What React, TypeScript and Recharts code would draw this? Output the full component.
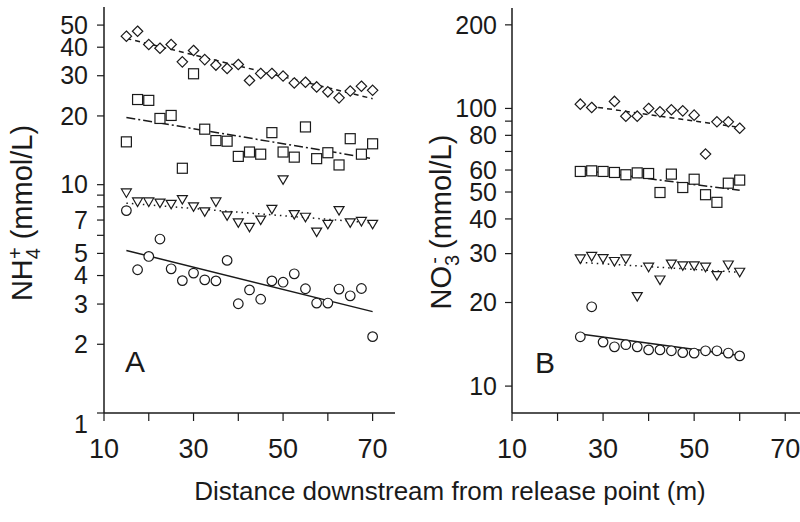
import React from "react";
import { ScatterChart, Scatter, XAxis, YAxis } from "recharts";

// ---------------------------------------------------------------------------
// Data (distance in m, concentration in mmol/L)
// ---------------------------------------------------------------------------

const distA = [15, 17.5, 20, 22.5, 25, 27.5, 30, 32.5, 35, 37.5, 40, 42.5, 45, 47.5, 50, 52.5, 55, 57.5, 60, 62.5, 65, 67.5, 70];
const diamondA = [44.7, 47.0, 41.1, 39.6, 41.1, 34.5, 38.7, 35.3, 33.4, 32.3, 33.6, 28.6, 30.7, 30.7, 29.9, 27.9, 28.1, 26.8, 25.5, 24.0, 25.7, 27.0, 25.9];
const squareA = [15.4, 23.6, 23.4, 19.5, 20.1, 11.8, 30.6, 17.5, 15.6, 15.5, 13.3, 13.9, 13.6, 16.9, 13.9, 13.2, 17.9, 13.0, 13.8, 12.2, 15.9, 13.6, 15.1];
const triangleA = [9.2, 8.4, 8.4, 8.3, 8.2, 8.6, 8.0, 7.6, 8.4, 7.3, 6.8, 6.5, 7.0, 7.8, 10.5, 7.4, 7.2, 6.2, 6.7, 7.7, 6.8, 6.9, 6.7];
const circleA = [7.7, 4.24, 4.85, 5.78, 4.28, 3.8, 4.1, 3.83, 3.79, 4.66, 3.01, 3.46, 3.15, 3.79, 3.74, 4.07, 3.5, 3.03, 3.03, 3.49, 3.26, 3.51, 2.16];

const fitDistA = [15, 70];
const diamondFitA = [43.7, 23.8];
const squareFitA = [19.7, 13.0];
const triangleFitA = [8.3, 6.8];
const circleFitA = [5.15, 2.78];

const distB = [25, 27.5, 30, 32.5, 35, 37.5, 40, 42.5, 45, 47.5, 50, 52.5, 55, 57.5, 60];
const diamondB = [103.6, 100.8, null, 106, 93.8, 93.8, 100, 97.2, 98.9, 98.0, 94.6, 68.5, 89.5, 89.5, 84.9];
const squareB = [59.3, 59.6, 59.3, 58.8, 57.7, 58.6, 58.3, 49.8, 58.0, 51.9, 55.6, 48.9, 45.9, 53.8, 55.2];
const triangleB = [28.7, 29.3, 28.8, 28.1, 28.7, 21.0, 26.8, 24.1, 27.5, 27.1, 27.1, 26.8, 25.0, 27.3, 25.7];
const circleB = [15.05, 19.3, 14.4, 13.85, 14.1, 13.85, 13.5, 13.5, 13.4, 13.2, 13.15, 13.4, 13.4, 13.15, 12.85];

const fitDistB = [25, 60];
const diamondFitB = [103, 85.4];
const squareFitB = [60.1, 50.7];
const triangleFitB = [27.9, 25.7];
const circleFitB = [15.4, 12.9];

const xTicks = [10, 20, 30, 40, 50, 60, 70];
const xLabels = [10, 30, 50, 70];
const yTicksA = [1, 2, 3, 4, 5, 6, 7, 8, 9, 10, 20, 30, 40, 50];
const yLabelsA = [1, 2, 3, 4, 5, 7, 10, 20, 30, 40, 50];
const yTicksB = [10, 20, 30, 40, 50, 60, 70, 80, 90, 100, 200];
const yLabelsB = [10, 20, 30, 40, 50, 60, 80, 100, 200];

// ---------------------------------------------------------------------------

const INK = "#1a1a1a";
const FONT = '"Liberation Sans", Arial, Helvetica, sans-serif';

type Pt = { x: number; y: number };

function toPoints(xs: number[], ys: (number | null)[]): Pt[] {
  return xs
    .map((x, i) => ({ x, y: ys[i] as number }))
    .filter((p) => p.y != null);
}

const Diamond = ({ cx, cy }: any) => (
  <path
    d={`M${cx},${cy - 5.2} L${cx + 5.2},${cy} L${cx},${cy + 5.2} L${cx - 5.2},${cy} Z`}
    fill="#fff"
    stroke={INK}
    strokeWidth={1.2}
  />
);

const Square = ({ cx, cy }: any) => (
  <rect x={cx - 5} y={cy - 5} width={10} height={10} fill="#fff" stroke={INK} strokeWidth={1.2} />
);

const Triangle = ({ cx, cy }: any) => (
  <path
    d={`M${cx - 5},${cy - 4} L${cx + 5},${cy - 4} L${cx},${cy + 4.5} Z`}
    fill="#fff"
    stroke={INK}
    strokeWidth={1.2}
  />
);

const Circle = ({ cx, cy }: any) => (
  <circle cx={cx} cy={cy} r={4.8} fill="#fff" stroke={INK} strokeWidth={1.2} />
);

const NoShape = () => <g />;

function YTick({ x, y, payload, labels, lowValue }: any) {
  if (!labels.includes(payload.value)) return <g />;
  const shift = payload.value === lowValue ? 11 : 0;
  return (
    <text x={x} y={y + shift} dy="0.35em" textAnchor="end" fontSize={25} fill={INK} fontFamily={FONT}>
      {payload.value}
    </text>
  );
}

function XTick({ x, y, payload }: any) {
  if (!xLabels.includes(payload.value)) return <g />;
  return (
    <text x={x} y={y} dy="0.71em" textAnchor="middle" fontSize={27} fill={INK} fontFamily={FONT}>
      {payload.value}
    </text>
  );
}

interface SeriesDef {
  points: Pt[];
  shape: any;
}

interface FitDef {
  points: Pt[];
  dash?: string;
}

function Panel({
  left,
  width,
  margin,
  yWidth,
  yDomain,
  yTicks,
  yLabels,
  yTickMargin,
  lowValue,
  series,
  fits,
}: {
  left: number;
  width: number;
  margin: { top: number; right: number; left: number; bottom: number };
  yWidth: number;
  yDomain: [number, number];
  yTicks: number[];
  yLabels: number[];
  yTickMargin: number;
  lowValue?: number;
  series: SeriesDef[];
  fits: FitDef[];
}) {
  return (
    <div style={{ position: "absolute", left, top: 0 }}>
      <ScatterChart width={width} height={522} margin={margin}>
        <XAxis
          type="number"
          dataKey="x"
          domain={[10, 75]}
          ticks={xTicks}
          interval={0}
          allowDataOverflow
          height={109}
          tickSize={8}
          tickMargin={18}
          axisLine={{ stroke: INK, strokeWidth: 1.5 }}
          tickLine={{ stroke: INK, strokeWidth: 1.2 }}
          tick={<XTick />}
        />
        <YAxis
          type="number"
          dataKey="y"
          scale="log"
          domain={yDomain}
          ticks={yTicks}
          interval={0}
          allowDataOverflow
          width={yWidth}
          tickSize={7}
          tickMargin={yTickMargin}
          axisLine={{ stroke: INK, strokeWidth: 1.5 }}
          tickLine={{ stroke: INK, strokeWidth: 1.2 }}
          tick={(p: any) => <YTick {...p} labels={yLabels} lowValue={lowValue} />}
        />
        {fits.map((f, i) => (
          <Scatter
            key={`fit-${i}`}
            data={f.points}
            shape={NoShape}
            line={{ stroke: INK, strokeWidth: 1.5, strokeDasharray: f.dash }}
            isAnimationActive={false}
          />
        ))}
        {series.map((s, i) => (
          <Scatter key={`s-${i}`} data={s.points} shape={s.shape} isAnimationActive={false} />
        ))}
      </ScatterChart>
    </div>
  );
}

export default function App() {
  const seriesA: SeriesDef[] = [
    { points: toPoints(distA, diamondA), shape: Diamond },
    { points: toPoints(distA, squareA), shape: Square },
    { points: toPoints(distA, triangleA), shape: Triangle },
    { points: toPoints(distA, circleA), shape: Circle },
  ];
  const fitsA: FitDef[] = [
    { points: toPoints(fitDistA, diamondFitA), dash: "5 4" },
    { points: toPoints(fitDistA, squareFitA), dash: "9 3 2 3" },
    { points: toPoints(fitDistA, triangleFitA), dash: "1.5 4" },
    { points: toPoints(fitDistA, circleFitA) },
  ];
  const seriesB: SeriesDef[] = [
    { points: toPoints(distB, diamondB), shape: Diamond },
    { points: toPoints(distB, squareB), shape: Square },
    { points: toPoints(distB, triangleB), shape: Triangle },
    { points: toPoints(distB, circleB), shape: Circle },
  ];
  const fitsB: FitDef[] = [
    { points: toPoints(fitDistB, diamondFitB), dash: "5 4" },
    { points: toPoints(fitDistB, squareFitB), dash: "9 3 2 3" },
    { points: toPoints(fitDistB, triangleFitB), dash: "1.5 4" },
    { points: toPoints(fitDistB, circleFitB) },
  ];

  return (
    <div
      style={{
        position: "absolute",
        left: 0,
        top: 0,
        width: 800,
        height: 522,
        overflow: "hidden",
        background: "#fff",
        fontFamily: FONT,
      }}
    >
      <Panel
        left={0}
        width={420}
        margin={{ top: 7, right: 25, left: 0, bottom: 0 }}
        yWidth={104}
        yDomain={[1, 60]}
        yTicks={yTicksA}
        yLabels={yLabelsA}
        yTickMargin={9}
        lowValue={1}
        series={seriesA}
        fits={fitsA}
      />
      <Panel
        left={420}
        width={388}
        margin={{ top: 8, right: 0, left: 0, bottom: 0 }}
        yWidth={92}
        yDomain={[8, 230]}
        yTicks={yTicksB}
        yLabels={yLabelsB}
        yTickMargin={8}
        series={seriesB}
        fits={fitsB}
      />
      <svg
        width={800}
        height={522}
        style={{ position: "absolute", left: 0, top: 0, pointerEvents: "none" }}
        fontFamily={FONT}
        fill={INK}
      >
        <text x={450} y={500} textAnchor="middle" fontSize={26}>
          Distance downstream from release point (m)
        </text>
        <text x={125} y={372} fontSize={30}>
          A
        </text>
        <text x={535} y={373} fontSize={30}>
          B
        </text>
        <text transform="translate(32,213) rotate(-90)" textAnchor="middle" fontSize={29}>
          NH
          <tspan fontSize={20} dy={8}>
            4
          </tspan>
          <tspan fontSize={20} dx={-11} dy={-18}>
            +
          </tspan>
          <tspan dy={10}> (mmol/L)</tspan>
        </text>
        <text transform="translate(451,222) rotate(-90)" textAnchor="middle" fontSize={29}>
          NO
          <tspan fontSize={20} dy={8}>
            3
          </tspan>
          <tspan fontSize={20} dx={-9} dy={-18}>
            -
          </tspan>
          <tspan dy={10}> (mmol/L)</tspan>
        </text>
      </svg>
    </div>
  );
}
